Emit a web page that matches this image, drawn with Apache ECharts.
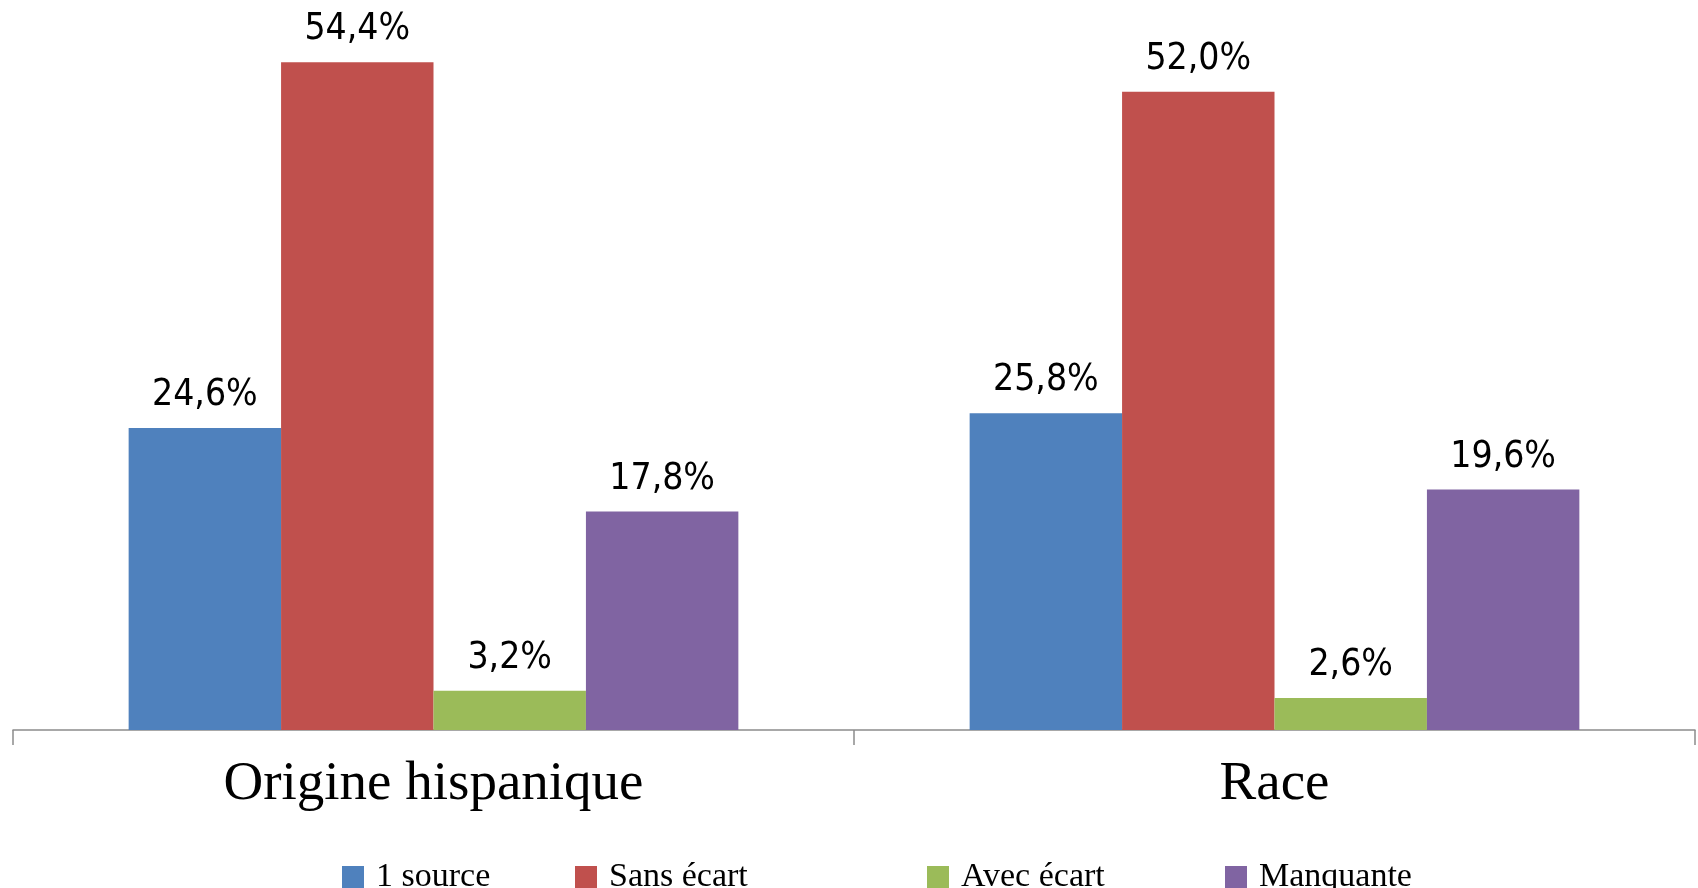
<!DOCTYPE html>
<html>
<head>
<meta charset="utf-8">
<script src="https://cdn.jsdelivr.net/npm/echarts@6/dist/echarts.min.js"></script>
<style>
  html, body { margin: 0; padding: 0; background: #fff; }
  #chart { width: 1698px; height: 888px; }
</style>
</head>
<body>
<div id="chart"></div>
<script>
  // données du graphique
  const categories = ['Origine hispanique', 'Race'];
  const seriesNames = ['1 source', 'Sans écart', 'Avec écart', 'Manquante'];
  const uneSource = [24.6, 25.8];
  const sansEcart = [54.4, 52.0];
  const avecEcart = [3.2, 2.6];
  const manquante = [17.8, 19.6];

  const couleurs = ['#4F81BD', '#C0504D', '#9BBB59', '#8064A2'];
  const valeurs = [uneSource, sansEcart, avecEcart, manquante];
  const legendLeft = [337, 570, 922, 1220];

  const labelFont = "'Liberation Sans Narrow', 'DejaVu Sans Condensed', sans-serif";
  const serifFont = "'Liberation Serif', 'DejaVu Serif', serif";

  const chart = echarts.init(document.getElementById('chart'));

  const option = {
    animation: false,
    grid: { left: 13, right: 3, top: 55, bottom: 158 },
    legend: seriesNames.map((n, i) => ({
      data: [n],
      left: legendLeft[i],
      top: 855,
      itemWidth: 22,
      itemHeight: 22,
      icon: 'rect',
      textStyle: { fontFamily: serifFont, fontSize: 34, color: '#000', padding: [0, 0, 0, 7] }
    })),
    xAxis: {
      type: 'category',
      data: categories,
      axisLine: { lineStyle: { color: '#8c8c8c', width: 1.5 } },
      axisTick: { show: true, alignWithLabel: false, interval: 0, length: 15, lineStyle: { color: '#8c8c8c', width: 1.5 } },
      axisLabel: { fontFamily: serifFont, fontSize: 55, color: '#000', margin: 27 }
    },
    yAxis: {
      type: 'value',
      min: 0,
      max: 55,
      show: false,
      splitLine: { show: false }
    },
    series: seriesNames.map((n, i) => ({
      name: n,
      type: 'bar',
      data: valeurs[i],
      barGap: '0%',
      barCategoryGap: '27.5%',
      itemStyle: { color: couleurs[i] },
      label: {
        show: true,
        position: 'top',
        distance: 14,
        fontFamily: labelFont,
        fontSize: 37,
        color: '#000',
        formatter: p => p.value.toFixed(1).replace('.', ',') + '%'
      }
    }))
  };

  chart.setOption(option);
  window.addEventListener('resize', () => chart.resize());
</script>
</body>
</html>
